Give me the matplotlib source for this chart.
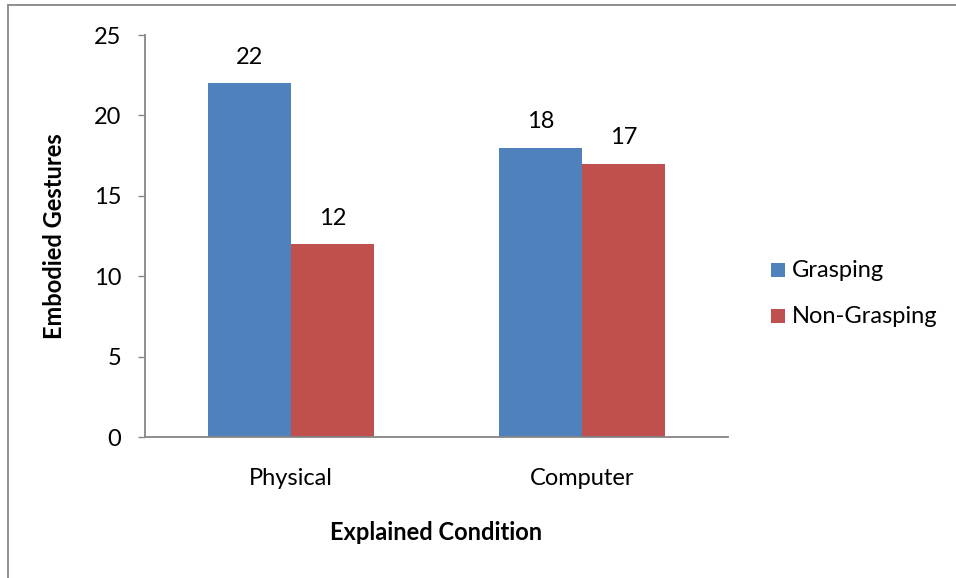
import matplotlib
matplotlib.use("Agg")
import matplotlib.pyplot as plt
from matplotlib.patches import Rectangle
import numpy as np

plt.rcParams['font.family'] = ['Lato', 'DejaVu Sans']

categories = ["Physical", "Computer"]
series_names = ["Grasping", "Non-Grasping"]
grasping = [22, 18]
non_grasping = [12, 17]
y_ticks = [0, 5, 10, 15, 20, 25]

colors = ["#4F81BD", "#C0504D"]
axis_color = "#868686"
fs = 17

W, H = 956, 578
fig = plt.figure(figsize=(W / 100, H / 100), dpi=100)
ax = fig.add_axes([145 / W, 1 - 437 / H, (728 - 145) / W, (437 - 35) / H])

x = np.arange(len(categories))
bw = 0.285
for i, (vals, name, col) in enumerate(zip([grasping, non_grasping], series_names, colors)):
    pos = x + (i - 0.5) * bw
    bars = ax.bar(pos, vals, width=bw, color=col, label=name, zorder=2)
    for b, v in zip(bars, vals):
        ax.annotate(str(v), (b.get_x() + b.get_width() / 2, v),
                    xytext=(0, 14), textcoords="offset points",
                    ha="center", va="baseline", fontsize=fs, color="black")

ax.set_xlim(-0.5, 1.5)
ax.set_ylim(0, 25)
ax.set_yticks(y_ticks)
ax.set_xticks(x)
ax.set_xticklabels(categories)
ax.tick_params(axis="y", length=5, width=1, color=axis_color, labelsize=fs, pad=12)
ax.tick_params(axis="x", length=0, labelsize=fs, pad=22)

for side in ["top", "right"]:
    ax.spines[side].set_visible(False)
for side in ["left", "bottom"]:
    ax.spines[side].set_color(axis_color)
    ax.spines[side].set_linewidth(1.3)

ax.set_ylabel("Embodied Gestures", fontsize=fs, fontweight="bold", labelpad=20)
ax.set_xlabel("Explained Condition", fontsize=fs, fontweight="bold", labelpad=23)

# legend: colour square plus series name, one row per series
to_fig = lambda px, py: (px / W, 1 - py / H)
row_baselines = [277, 323]
for name, col, base in zip(series_names, colors, row_baselines):
    x0, y0 = to_fig(771, base)
    fig.add_artist(Rectangle((x0, y0), 14 / W, 14 / H, transform=fig.transFigure,
                             facecolor=col, edgecolor="none"))
    tx, ty = to_fig(792, base)
    fig.text(tx, ty, name, fontsize=fs, ha="left", va="baseline", color="black")

# outer chart frame
fig.add_artist(Rectangle((8 / W, -0.1), 1.2, 1 - 5 / H + 0.1, transform=fig.transFigure,
                         fill=False, edgecolor=axis_color, linewidth=1.3))

fig.savefig("out.png", dpi=100)
